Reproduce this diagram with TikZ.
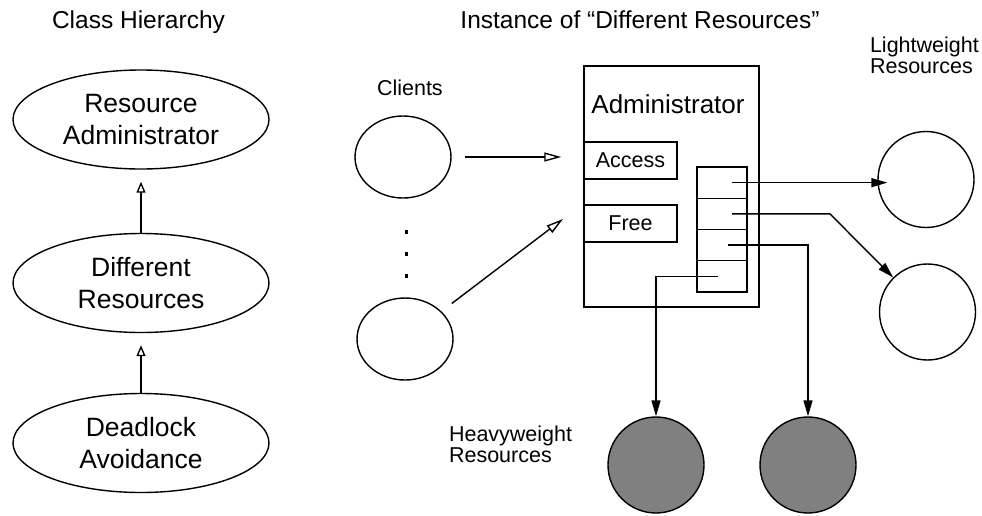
\documentclass[tikz,border=0pt]{standalone}
\usepackage{fontspec}
\setmainfont{Liberation Sans}
\usepackage{tikz}
\usetikzlibrary{arrows.meta}
\tikzset{>={Triangle[length=16,width=9]}}
\usetikzlibrary{calc,shapes.geometric}

\begin{document}
\begin{tikzpicture}[x=1pt,y=-1pt,line width=1.4pt,
    big/.style={font=\fontsize{26.5}{32}\selectfont},
    title/.style={font=\fontsize{24.5}{30}\selectfont},
    small/.style={font=\fontsize{21.5}{20.5}\selectfont},
    cls/.style={ellipse,draw,big,align=center,minimum width=256,minimum height=99,inner sep=0},
    client/.style={ellipse,draw,minimum width=96,minimum height=82,inner sep=0},
    res/.style={circle,draw,minimum size=96,inner sep=0},
    box/.style={rectangle,draw,inner sep=0},
    cell/.style={box,minimum width=50,minimum height=31.25},
    inherit/.style={-{Triangle[open,length=11,width=9]},shorten >=12},
    request/.style={-{Triangle[open,length=17,width=9]},shorten <=13},
    link/.style={->}]
    \useasboundingbox (0,0) rectangle (982,515);

    % class hierarchy
    \node[title,anchor=base] (t1) at (138.5,28) {Class Hierarchy};
    \node[cls] (ra) at (141,119.5) {Resource\\Administrator};
    \node[cls] (dr) at (141,283) {Different\\Resources};
    \node[cls] (da) at (141,443) {Deadlock\\Avoidance};
    \draw[inherit] (dr) -- (ra);
    \draw[inherit] (da) -- (dr);

    % instance
    \node[title,anchor=base] (t2) at (640,28) {Instance of ``Different Resources''};

    \node[small,anchor=base west] (cl) at (373,95) {Clients};
    \node[client] (c1) at (403,157) {};
    \node[client] (c2) at (405,339) {};
    \foreach \y in {232,254,276}
        \fill (404.5,\y-1.7) rectangle ++(3.4,3.4);

    \node[box,minimum width=175,minimum height=241] (adm) at (671.5,186.5) {};
    \node[big,font=\fontsize{26}{32}\selectfont,anchor=base] (admtxt) at (668,113) {Administrator};
    \node[box,small,minimum width=93,minimum height=37] (acc) at (630.5,160.5) {Access};
    \node[box,small,minimum width=93,minimum height=37] (free) at (630.5,223.5) {Free};
    \foreach \i in {1,...,4}
        \node[cell] (s\i) at (722,{151.4+31.25*\i}) {};

    \coordinate (in2) at (563,219);
    \draw[request,shorten >=22] (c1) -- (c1 -| adm.west);
    \draw[request] (c2) -- (in2);

    \node[small,anchor=base west,align=left] (lwt) at (866,73) {Lightweight\\Resources};
    \node[res,minimum width=94] (lw1) at (926,179.5) {};
    \node[res] (lw2) at (927.5,312) {};

    \node[small,anchor=base west,align=left] (hwt) at (445,462) {Heavyweight\\Resources};
    \node[res,fill=black!50] (hw1) at (656,465) {};
    \node[res,fill=black!50] (hw2) at (808,465) {};

    \draw[link] ([xshift=10]s1.center) -- ([xshift=10]s1.center -| lw1.west);
    \draw[link] ([xshift=10]s2.center) -- ++(98,0) -- (lw2);
    \draw[link] ([xshift=6]s3.center) -| (hw2);
    \draw[link] ([xshift=-4]s4.center) -| (hw1);

    \end{tikzpicture}
\end{document}
